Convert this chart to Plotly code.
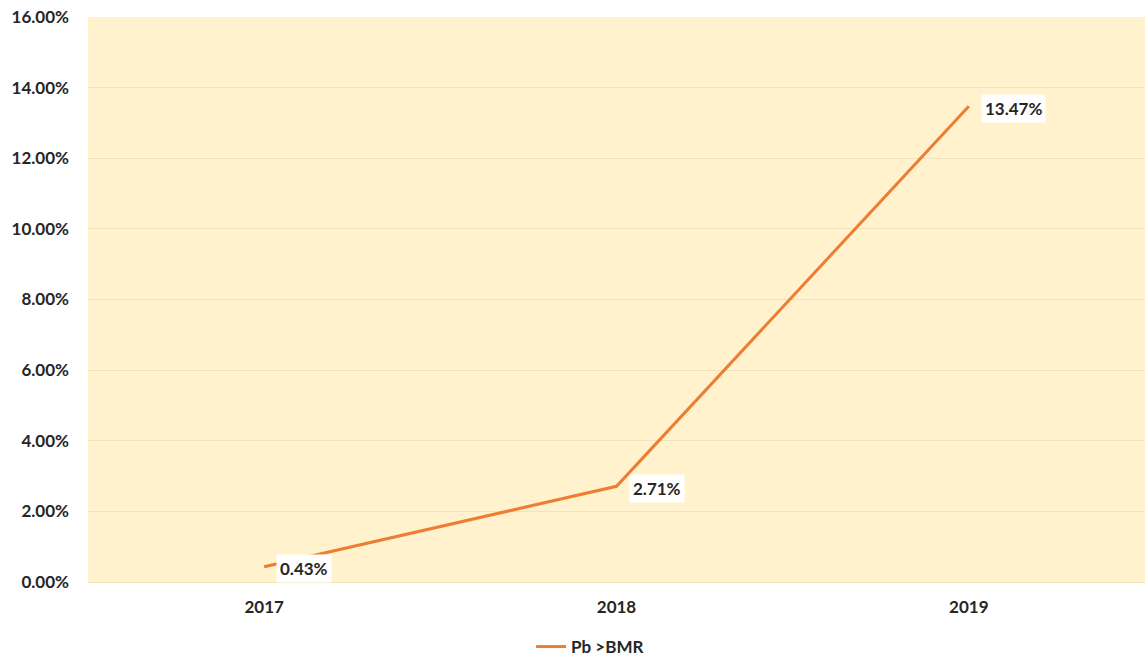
import plotly.graph_objects as go

years = ["2017", "2018", "2019"]
values = [0.43, 2.71, 13.47]
labels = ["0.43%", "2.71%", "13.47%"]
series_name = "Pb >BMR"
y_ticks = [0, 2, 4, 6, 8, 10, 12, 14, 16]
y_tick_text = [f"{v:.2f}%" for v in y_ticks]

orange = "#ED7D31"
font_family = "Lato, Open Sans, sans-serif"
text_color = "#262626"
fs = 17

fig = go.Figure()
fig.add_trace(go.Scatter(
    x=years, y=values, mode="lines", name=f"<b>{series_name}</b>",
    line=dict(color=orange, width=3),
))

for i, (y, t) in enumerate(zip(values, labels)):
    fig.add_annotation(
        x=i, y=y, xref="x", yref="y", text=f"<b>{t}</b>", showarrow=False,
        xanchor="left", yanchor="middle", xshift=12, yshift=-2,
        bgcolor="white", borderpad=3,
        font=dict(family=font_family, size=fs, color=text_color),
    )

fig.update_layout(
    width=1145, height=660,
    margin=dict(l=88, r=0, t=17, b=78, autoexpand=False),
    paper_bgcolor="white",
    plot_bgcolor="#FFF2CC",
    showlegend=True,
    legend=dict(orientation="h", x=0.475, xanchor="center",
                yref="container", y=13 / 660, yanchor="middle",
                font=dict(family=font_family, size=fs, color=text_color)),
    xaxis=dict(type="category", range=[-0.5, 2.5], showgrid=False,
               showline=True, linecolor="#F2E3BD", linewidth=1,
               tickvals=years, ticktext=[f"<b>{y}</b>" for y in years],
               tickfont=dict(family=font_family, size=fs, color=text_color),
               ticks="", ticklabelstandoff=10),
    yaxis=dict(range=[0, 16], tickvals=y_ticks, ticktext=[f"<b>{t}</b>" for t in y_tick_text],
               showgrid=True, gridcolor="#F2E3BD", gridwidth=1, zeroline=False,
               tickfont=dict(family=font_family, size=fs, color=text_color),
               ticks="", ticklabelstandoff=18),
)

fig.write_html(
    "out.html",
    config={"displayModeBar": False},
    post_script="document.body.style.margin='0';document.body.style.overflow='hidden';",
)
